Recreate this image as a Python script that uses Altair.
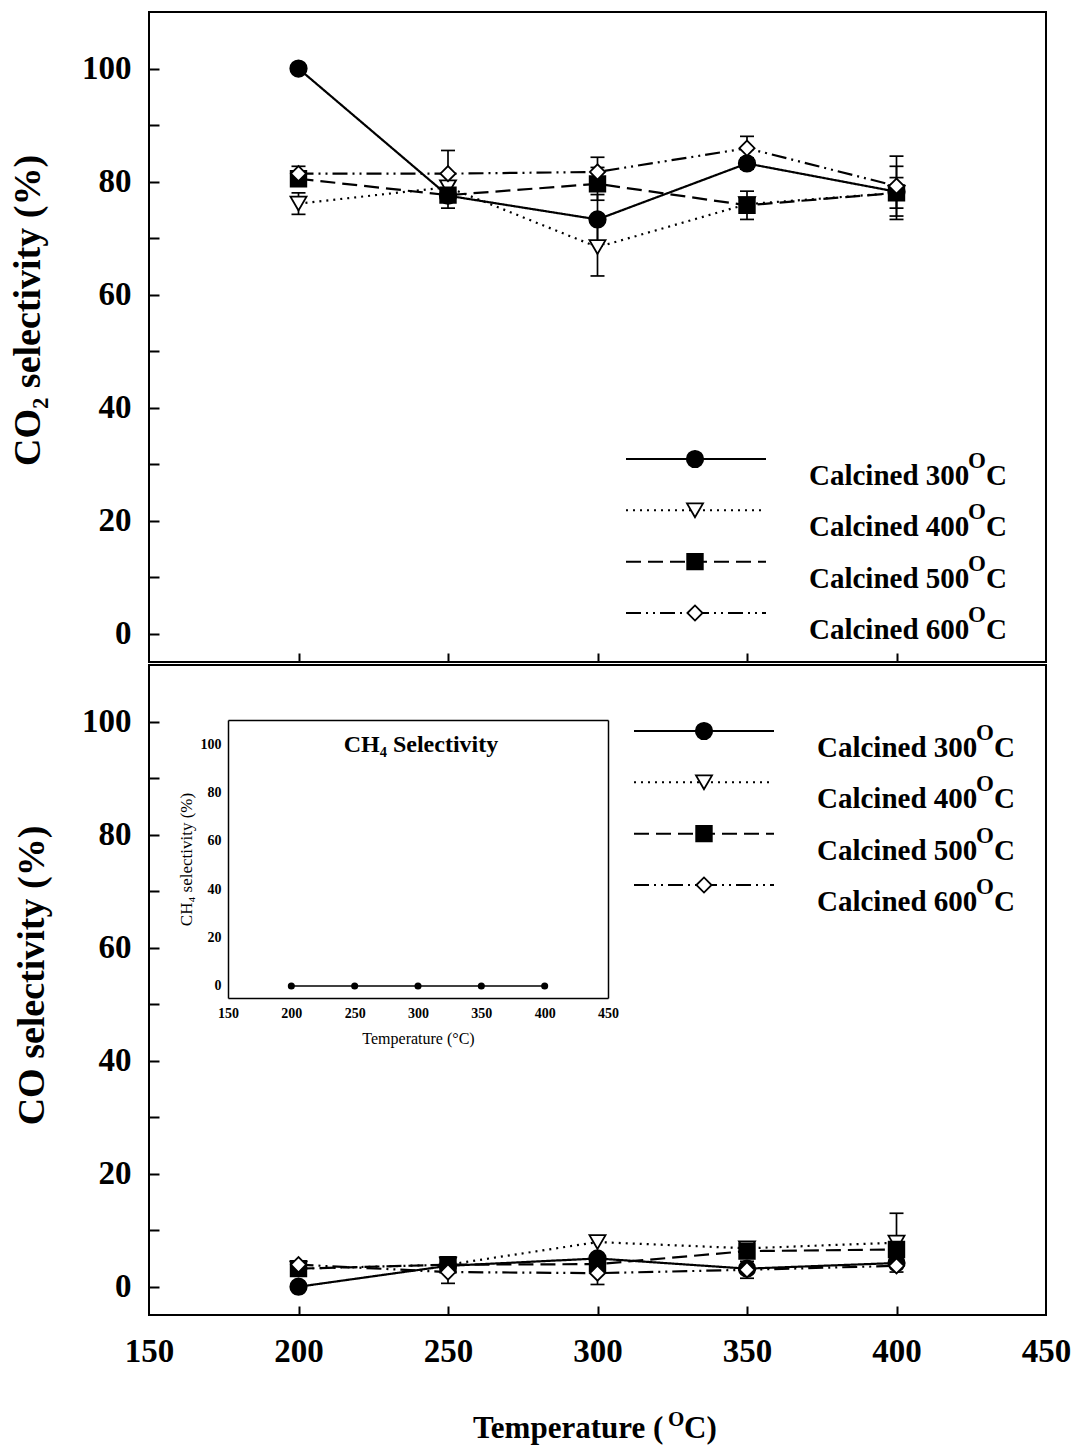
import altair as alt
import pandas as pd

# ---------------- data ----------------
temps = [200, 250, 300, 350, 400]
series_names = ["Calcined 300", "Calcined 400", "Calcined 500", "Calcined 600"]

co2_300 = [100.0, 77.5, 73.3, 83.2, 78.2]
co2_400 = [76.1, 79.0, 68.4, 76.0, 78.0]
co2_500 = [80.5, 77.6, 79.6, 75.8, 78.0]
co2_600 = [81.4, 81.4, 81.7, 85.9, 79.2]
co2_err_300 = [0.0, 1.0, 4.4, 1.0, 0.0]
co2_err_400 = [1.9, 0.0, 5.1, 0.0, 4.7]
co2_err_500 = [0.0, 2.3, 2.9, 2.5, 2.7]
co2_err_600 = [1.3, 4.1, 2.6, 2.1, 5.3]

co_300 = [0.0, 3.7, 5.0, 3.2, 4.2]
co_400 = [3.2, 3.9, 7.9, 6.8, 7.8]
co_500 = [3.2, 3.9, 4.0, 6.3, 6.6]
co_600 = [3.9, 2.6, 2.4, 3.0, 3.7]
co_err_300 = [0.0, 0.0, 0.0, 0.0, 0.0]
co_err_400 = [0.0, 0.0, 0.0, 0.0, 5.2]
co_err_500 = [0.0, 0.0, 0.0, 0.0, 0.0]
co_err_600 = [0.0, 2.0, 2.0, 1.5, 0.0]

ch4_300 = [0.0, 0.0, 0.0, 0.0, 0.0]

y_label_values = [0, 20, 40, 60, 80, 100]
y_tick_values = [0, 10, 20, 30, 40, 50, 60, 70, 80, 90, 100]
x_label_values = [150, 200, 250, 300, 350, 400, 450]
x_tick_values = [200, 250, 300, 350, 400]

legend_rows = [0, 1, 2, 3]

# ---------------- helpers ----------------
FONT = "Liberation Serif"
W, H = 897, 650
X_DOMAIN = [150, 450]
Y_DOMAIN = [-5, 110]


def long_df(vals, errs):
    rows = []
    for name, v, e in zip(series_names, vals, errs):
        for t, vi, ei in zip(temps, v, e):
            rows.append(dict(temp=t, series=name, value=vi, err=ei, lo=vi - ei, hi=vi + ei))
    return pd.DataFrame(rows)


def xs(axis=None):
    return alt.X("temp:Q", scale=alt.Scale(domain=X_DOMAIN, nice=False, zero=False), axis=axis)


def ys(field="value", axis=None):
    return alt.Y(f"{field}:Q", scale=alt.Scale(domain=Y_DOMAIN, nice=False, zero=False), axis=axis)


dash_enc = alt.StrokeDash("series:N", scale=alt.Scale(domain=series_names,
                          range=[[1, 0], [2, 5], [15, 7], [15, 5, 2, 5, 2, 5]]), legend=None)
shape_enc = alt.Shape("series:N", scale=alt.Scale(domain=series_names,
                      range=["circle", "triangle-down", "square", "diamond"]), legend=None)
fill_enc = alt.Fill("series:N", scale=alt.Scale(domain=series_names,
                    range=["black", "white", "black", "white"]), legend=None)
size_enc = alt.Size("series:N", scale=alt.Scale(domain=series_names,
                    range=[270, 230, 190, 300]), legend=None)


def legend_layers(line_x0, line_x1, marker_x, text_x, sup_x, row_top, row_bottom):
    ldf = pd.DataFrame({"row": legend_rows, "series": series_names,
                        "label": series_names, "sup": ["O"] * 4, "unit": ["C"] * 4})
    ly = alt.Y("row:Q", scale=alt.Scale(domain=[0, 3], range=[row_top, row_bottom]), axis=None)
    base = alt.Chart(ldf)
    rules = base.mark_rule(color="black", strokeWidth=2).encode(
        x=alt.value(line_x0), x2=alt.value(line_x1), y=ly, strokeDash=dash_enc)
    pts = base.mark_point(filled=True, stroke="black", strokeWidth=1.8, opacity=1).encode(
        x=alt.value(marker_x), y=ly, shape=shape_enc, fill=fill_enc, size=size_enc)
    txt = base.mark_text(align="left", baseline="alphabetic", dy=26, font=FONT,
                         fontSize=29, fontWeight="bold", color="black").encode(
        x=alt.value(text_x), y=ly, text="label:N")
    sup = base.mark_text(align="left", baseline="alphabetic", dy=9, font=FONT,
                         fontSize=23, fontWeight="bold", color="black").encode(
        x=alt.value(sup_x), y=ly, text="sup:N")
    unit = base.mark_text(align="left", baseline="alphabetic", dy=26, font=FONT,
                          fontSize=29, fontWeight="bold", color="black").encode(
        x=alt.value(sup_x + 18), y=ly, text="unit:N")
    return [rules, pts, txt, sup, unit]


def panel(df, ytitle, title_x, title_y, show_x_labels, legend, extra):
    ylab_axis = alt.Axis(orient="left", values=y_label_values, ticks=False, tickSize=0,
                         domain=False, grid=False, labelFont=FONT, labelFontSize=33,
                         labelFontWeight="bold", labelColor="black", labelPadding=18,
                         labelFlush=False,
                         title=ytitle, titleFont=FONT, titleFontSize=38, titleFontWeight="bold",
                         titleColor="black", titleX=title_x, titleY=title_y,
                         titleBaseline="alphabetic", titleAngle=270)
    ytick_axis = alt.Axis(orient="right", offset=-W, values=y_tick_values, labels=False,
                          ticks=True, tickSize=10, tickWidth=2, tickColor="black",
                          domain=False, grid=False, title=None)
    xtick_axis = alt.Axis(orient="top", offset=-H, values=x_tick_values, labels=False,
                          ticks=True, tickSize=9, tickWidth=2, tickColor="black",
                          domain=False, grid=False, title=None)
    if show_x_labels:
        xlab_axis = alt.Axis(orient="bottom", values=x_label_values, ticks=False, tickSize=0,
                             domain=False, grid=False, labelFont=FONT, labelFontSize=33,
                             labelFontWeight="bold", labelColor="black", labelPadding=20,
                             labelFlush=False, title=None)
    else:
        xlab_axis = None

    base = alt.Chart(df)
    lines = base.mark_line(color="black", strokeWidth=2.2).encode(
        x=xs(xlab_axis), y=ys("value", ylab_axis), strokeDash=dash_enc)
    err = base.transform_filter("datum.err > 0")
    rules = err.mark_rule(color="black", strokeWidth=1.7).encode(
        x=xs(xtick_axis), y=ys("lo", ytick_axis), y2="hi:Q")
    cap_lo = err.mark_tick(color="black", orient="horizontal", size=14, thickness=1.7,
                           opacity=1).encode(x=xs(), y=ys("lo"))
    cap_hi = err.mark_tick(color="black", orient="horizontal", size=14, thickness=1.7,
                           opacity=1).encode(x=xs(), y=ys("hi"))
    pts = base.mark_point(filled=True, stroke="black", strokeWidth=1.8, opacity=1).encode(
        x=xs(), y=ys("value"), shape=shape_enc, fill=fill_enc, size=size_enc)

    layers = [lines, rules, cap_lo, cap_hi, pts] + legend + extra
    return alt.layer(*layers).resolve_scale(x="independent", y="independent").resolve_axis(
        x="independent", y="independent").properties(width=W, height=H)


# ---------------- inset (CH4) ----------------
ins_left, ins_right, ins_top, ins_bottom = 79, 459, 55, 333
ins_df = pd.DataFrame({"temp": temps, "value": ch4_300})
ins_x_scale = alt.Scale(domain=X_DOMAIN, range=[ins_left, ins_right], nice=False, zero=False)
ins_y_scale = alt.Scale(domain=Y_DOMAIN, range=[ins_bottom, ins_top], nice=False, zero=False)

ins_x_axis = alt.Axis(orient="bottom", offset=ins_bottom - H, values=x_label_values,
                      ticks=False, tickSize=0, domain=True, domainColor="black", domainWidth=1.5,
                      grid=False, labelFont=FONT, labelFontSize=14, labelFontWeight="bold",
                      labelColor="black", labelPadding=8, labelFlush=False,
                      title="Temperature (°C)",
                      titleFont=FONT, titleFontSize=16, titleFontWeight="normal",
                      titleColor="black", titlePadding=10)
ins_y_axis = alt.Axis(orient="left", offset=-ins_left, values=y_label_values,
                      ticks=False, tickSize=0, domain=True, domainColor="black", domainWidth=1.5,
                      grid=False, labelFont=FONT, labelFontSize=14, labelFontWeight="bold",
                      labelColor="black", labelPadding=7, labelFlush=False,
                      title="CH₄ selectivity (%)",
                      titleFont=FONT, titleFontSize=17, titleFontWeight="normal",
                      titleColor="black", titlePadding=5)
ins_top_axis = alt.Axis(orient="top", offset=-ins_top, labels=False, ticks=False,
                        domain=True, domainColor="black", domainWidth=1.5, grid=False, title=None)
ins_right_axis = alt.Axis(orient="right", offset=ins_right - W, labels=False, ticks=False,
                          domain=True, domainColor="black", domainWidth=1.5, grid=False, title=None)

ins_base = alt.Chart(ins_df)
ins_line = ins_base.mark_line(color="black", strokeWidth=1.5).encode(
    x=alt.X("temp:Q", scale=ins_x_scale, axis=ins_x_axis),
    y=alt.Y("value:Q", scale=ins_y_scale, axis=ins_y_axis))
ins_pts = ins_base.mark_point(filled=True, color="black", size=50, opacity=1).encode(
    x=alt.X("temp:Q", scale=ins_x_scale, axis=ins_top_axis),
    y=alt.Y("value:Q", scale=ins_y_scale, axis=ins_right_axis))
ins_title = alt.Chart(pd.DataFrame({"t": ["CH₄ Selectivity"]})).mark_text(
    font=FONT, fontSize=24, fontWeight="bold", color="black", align="center",
    baseline="middle").encode(x=alt.value(272), y=alt.value(80), text="t:N")

# ---------------- x title with superscript O ----------------
xt_df = pd.DataFrame({"a": ["Temperature ("], "b": ["O"], "c": ["C)"]})
xt_base = alt.Chart(xt_df)
xt_a = xt_base.mark_text(font=FONT, fontSize=31, fontWeight="bold", color="black",
                         align="left", baseline="alphabetic").encode(
    x=alt.value(324), y=alt.value(773), text="a:N")
xt_b = xt_base.mark_text(font=FONT, fontSize=21, fontWeight="bold", color="black",
                         align="left", baseline="alphabetic").encode(
    x=alt.value(519), y=alt.value(761), text="b:N")
xt_c = xt_base.mark_text(font=FONT, fontSize=31, fontWeight="bold", color="black",
                         align="left", baseline="alphabetic").encode(
    x=alt.value(535), y=alt.value(773), text="c:N")

# ---------------- panels ----------------
top = panel(long_df([co2_300, co2_400, co2_500, co2_600],
                    [co2_err_300, co2_err_400, co2_err_500, co2_err_600]),
            "CO₂ selectivity (%)", -110, 298, False,
            legend_layers(477, 617, 546, 660, 819, 447, 601), [])

bottom = panel(long_df([co_300, co_400, co_500, co_600],
                       [co_err_300, co_err_400, co_err_500, co_err_600]),
               "CO selectivity (%)", -106, 310, True,
               legend_layers(485, 625, 555, 668, 827, 66, 220),
               [ins_line, ins_pts, ins_title, xt_a, xt_b, xt_c])

chart = alt.vconcat(top, bottom, spacing=0).properties(
    padding={"left": 8, "top": 11, "right": 0, "bottom": 0},
    background="white",
).configure_view(stroke="black", strokeWidth=2).configure_axis(grid=False)

chart.save("out.html", embed_options={"renderer": "svg", "actions": False})
